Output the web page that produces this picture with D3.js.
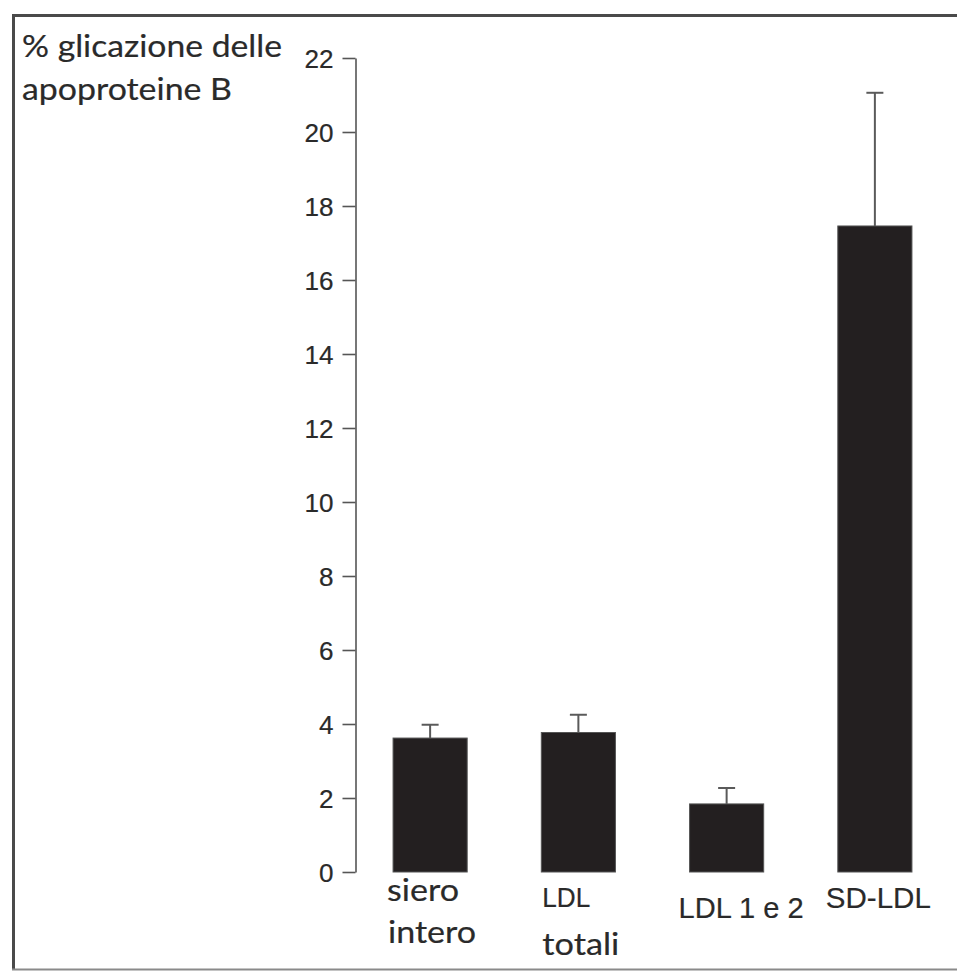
<!DOCTYPE html>
<html>
<head>
<meta charset="utf-8">
<script src="https://cdn.jsdelivr.net/npm/d3@7"></script>
<style>
  body { margin: 0; background: #fff; }
  svg { display: block; }
  text { stroke: #2a2a2a; stroke-width: 0.2px; }
</style>
</head>
<body>
<div id="chart"></div>
<script>
// data
var categories = ["siero intero", "LDL totali", "LDL 1 e 2", "SD-LDL"];
var values = [3.62, 3.77, 1.84, 17.46];
var errors = [0.36, 0.48, 0.43, 3.6];
var yTicks = [0, 2, 4, 6, 8, 10, 12, 14, 16, 18, 20, 22];
var labelLines = [["siero", "intero"], ["LDL", "totali"], ["LDL 1 e 2"], ["SD-LDL"]];
var yLabel = ["% glicazione delle", "apoproteine B"];

var W = 957, H = 972;
var sans = "Lato, sans-serif";
var helv = "'Liberation Sans', Arial, sans-serif";

var svg = d3.select("#chart").append("svg")
    .attr("width", W)
    .attr("height", H);

// frame around the figure (right side runs off the picture)
svg.append("path")
    .attr("d", "M" + W + ",15.5 H13.5 V969")
    .attr("fill", "none")
    .attr("stroke", "#4a4a4a")
    .attr("stroke-width", 3);
svg.append("line")
    .attr("x1", 12).attr("x2", W)
    .attr("y1", 969.5).attr("y2", 969.5)
    .attr("stroke", "#8a8a8a")
    .attr("stroke-width", 2);

// scales
var y = d3.scaleLinear()
    .domain([0, 22])
    .range([872, 58]);

var x = d3.scaleBand()
    .domain(categories)
    .range([356, 949])
    .paddingInner(0.5)
    .paddingOuter(0.25);

// y axis
var yAxis = svg.append("g")
    .attr("transform", "translate(355.5,0)")
    .call(d3.axisLeft(y).tickValues(yTicks).tickSize(13).tickSizeOuter(0).tickPadding(9));
yAxis.select(".domain").attr("stroke", "#555").attr("stroke-width", 1.6);
yAxis.selectAll(".tick line").attr("stroke", "#555").attr("stroke-width", 1.6);
yAxis.selectAll(".tick text")
    .attr("fill", "#2a2a2a")
    .attr("dy", "0.36em")
    .style("font-family", helv)
    .style("font-size", "25px")
    .attr("textLength", function(d) { return String(d).length * 14.5; })
    .attr("lengthAdjust", "spacingAndGlyphs");

// bars
svg.selectAll(".bar")
    .data(categories)
  .enter().append("rect")
    .attr("class", "bar")
    .attr("x", function(d) { return x(d); })
    .attr("width", x.bandwidth())
    .attr("y", function(d, i) { return y(values[i]); })
    .attr("height", function(d, i) { return y(0) - y(values[i]); })
    .attr("fill", "#231f20")
    .attr("stroke", "#555")
    .attr("stroke-width", 1);

// error bars (upper only)
var err = svg.selectAll(".err")
    .data(categories)
  .enter().append("g")
    .attr("class", "err")
    .attr("stroke", "#5a5a5a")
    .attr("stroke-width", 2);
err.append("line")
    .attr("x1", function(d) { return x(d) + x.bandwidth() / 2; })
    .attr("x2", function(d) { return x(d) + x.bandwidth() / 2; })
    .attr("y1", function(d, i) { return y(values[i]); })
    .attr("y2", function(d, i) { return y(values[i] + errors[i]); });
err.append("line")
    .attr("x1", function(d) { return x(d) + x.bandwidth() / 2 - 8.5; })
    .attr("x2", function(d) { return x(d) + x.bandwidth() / 2 + 8.5; })
    .attr("y1", function(d, i) { return y(values[i] + errors[i]); })
    .attr("y2", function(d, i) { return y(values[i] + errors[i]); });

// category labels: per line offset from band start, baseline, font, size, width
var labelStyle = [
  [{ dx: -6, y: 901, font: sans, size: 30, w: 72 }, { dx: -5, y: 943, font: sans, size: 30, w: 88 }],
  [{ dx: 1, y: 907, font: helv, size: 28, w: 48 }, { dx: 1, y: 955, font: sans, size: 30, w: 77 }],
  [{ dx: -11, y: 918, font: helv, size: 30, w: 125 }],
  [{ dx: -12, y: 908, font: helv, size: 29, w: 105 }]
];
categories.forEach(function(c, i) {
  labelLines[i].forEach(function(line, j) {
    var st = labelStyle[i][j];
    svg.append("text")
      .attr("x", x(c) + st.dx)
      .attr("y", st.y)
      .attr("fill", "#2a2a2a")
      .attr("textLength", st.w)
      .attr("lengthAdjust", "spacingAndGlyphs")
      .style("font-family", st.font)
      .style("font-size", st.size + "px")
      .text(line);
  });
});

// y axis title
var titleWidths = [260, 210];
yLabel.forEach(function(line, i) {
  svg.append("text")
    .attr("x", 22)
    .attr("y", 57 + i * 43)
    .attr("fill", "#2a2a2a")
    .attr("textLength", titleWidths[i])
    .attr("lengthAdjust", "spacingAndGlyphs")
    .style("font-family", sans)
    .style("font-size", "30px")
    .text(line);
});
</script>
</body>
</html>
